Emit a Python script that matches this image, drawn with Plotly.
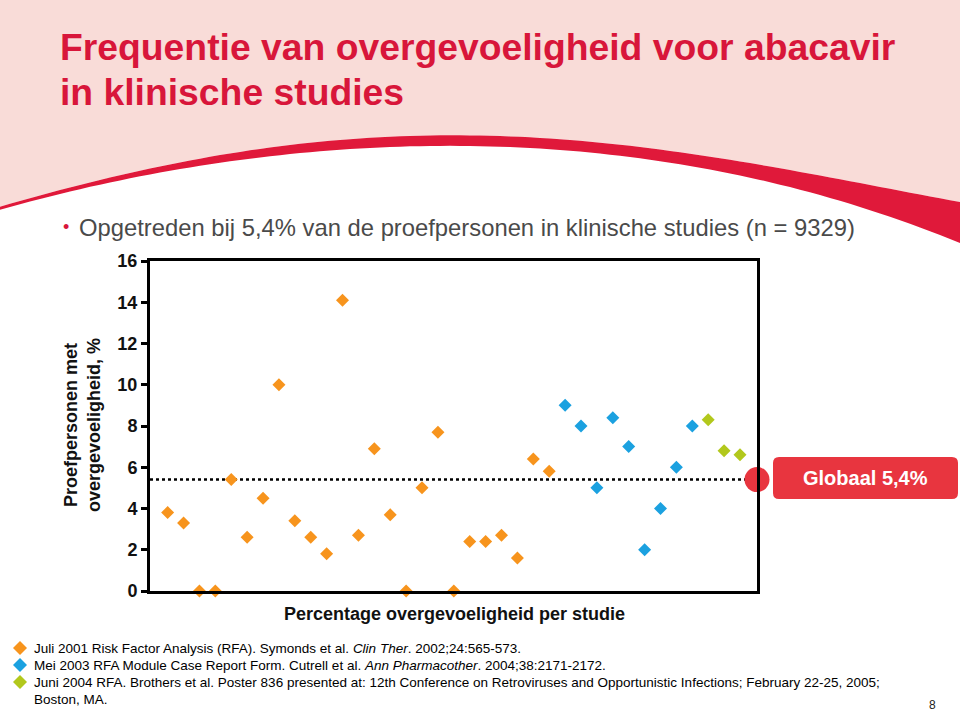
import numpy as np
import plotly.graph_objects as go

# ---------------- data ----------------
series_names = ["Juli 2001", "Mei 2003", "Juni 2004"]
orange_vals = [3.8, 3.3, 0, 0, 5.4, 2.6, 4.5, 10.0, 3.4, 2.6, 1.8, 14.1, 2.7, 6.9,
               3.7, 0, 5.0, 7.7, 0, 2.4, 2.4, 2.7, 1.6, 6.4, 5.8]
blue_vals = [9.0, 8.0, 5.0, 8.4, 7.0, 2.0, 4.0, 6.0, 8.0]
green_vals = [8.3, 6.8, 6.6]
global_pct = 5.4
y_ticks = [0, 2, 4, 6, 8, 10, 12, 14, 16]

legend_texts = [
    "Juli 2001 Risk Factor Analysis (RFA). Symonds et al. <i>Clin Ther</i>. 2002;24:565-573.",
    "Mei 2003 RFA Module Case Report Form. Cutrell et al. <i>Ann Pharmacother</i>. 2004;38:2171-2172.",
    "Juni 2004 RFA. Brothers et al. Poster 836 presented at: 12th Conference on Retroviruses and Opportunistic Infections; February 22-25, 2005;",
    "Boston, MA.",
]

COL_OR = "#f7941d"
COL_BL = "#1ba1e0"
COL_GR = "#b2c81c"
COL_RED = "#e8353f"
COL_TITLE = "#d8163a"
COL_SWOOSH = "#e0193a"
COL_PINK = "#f9dcd8"

W, H = 960, 714


def px(x):
    return x / W


def py(y):
    return 1 - y / H


n_or, n_bl, n_gr = len(orange_vals), len(blue_vals), len(green_vals)
x_or = list(range(1, n_or + 1))
x_bl = list(range(n_or + 1, n_or + n_bl + 1))
x_gr = list(range(n_or + n_bl + 1, n_or + n_bl + n_gr + 1))

XMIN, XMAX = -0.11, 38.07

fig = go.Figure()

fig.add_trace(go.Scatter(x=[XMIN, XMAX], y=[global_pct, global_pct], mode="lines",
                         line=dict(color="black", width=2.5, dash="dot"),
                         hoverinfo="skip", showlegend=False))

for xs_, ys_, c, nm in [(x_or, orange_vals, COL_OR, series_names[0]),
                        (x_bl, blue_vals, COL_BL, series_names[1]),
                        (x_gr, green_vals, COL_GR, series_names[2])]:
    fig.add_trace(go.Scatter(x=xs_, y=ys_, mode="markers", name=nm,
                             marker=dict(symbol="diamond", size=10, color=c),
                             cliponaxis=False, showlegend=False))

fig.add_trace(go.Scatter(x=[XMAX], y=[global_pct], mode="markers",
                         marker=dict(symbol="circle", size=25, color=COL_RED),
                         cliponaxis=False, showlegend=False, hoverinfo="skip"))

# ---------------- background swoosh ----------------
up_x = np.array([0, 107, 213, 320, 640, 800, 960])
up_y = np.array([207, 177, 158, 141, 147, 172, 202])
lo_x = np.array([0, 107, 213, 320, 640, 800, 960])
lo_y = np.array([210, 182, 165, 151, 158, 190, 243])
cu = np.polyfit(up_x, up_y, 4)
cl = np.polyfit(lo_x, lo_y, 4)
xs = np.linspace(0, 960, 97)
uy = np.polyval(cu, xs)
ly = np.polyval(cl, xs)

pink_path = f"M {px(0)},{py(-30)} L {px(960)},{py(-30)} "
for x, y in zip(xs[::-1], uy[::-1]):
    pink_path += f"L {px(x)},{py(y)} "
pink_path += "Z"

band_path = f"M {px(xs[0])},{py(uy[0])} "
for x, y in zip(xs[1:], uy[1:]):
    band_path += f"L {px(x)},{py(y)} "
for x, y in zip(xs[::-1], ly[::-1]):
    band_path += f"L {px(x)},{py(y)} "
band_path += "Z"

shapes = [
    dict(type="path", xref="paper", yref="paper", path=pink_path,
         fillcolor=COL_PINK, line=dict(width=0), layer="below"),
    dict(type="path", xref="paper", yref="paper", path=band_path,
         fillcolor=COL_SWOOSH, line=dict(width=0), layer="below"),
]

bx0, bx1, by0, by1, r = 773, 958, 457, 499, 6
box = (f"M {px(bx0 + r)},{py(by0)} L {px(bx1 - r)},{py(by0)} "
       f"Q {px(bx1)},{py(by0)} {px(bx1)},{py(by0 + r)} L {px(bx1)},{py(by1 - r)} "
       f"Q {px(bx1)},{py(by1)} {px(bx1 - r)},{py(by1)} L {px(bx0 + r)},{py(by1)} "
       f"Q {px(bx0)},{py(by1)} {px(bx0)},{py(by1 - r)} L {px(bx0)},{py(by0 + r)} "
       f"Q {px(bx0)},{py(by0)} {px(bx0 + r)},{py(by0)} Z")
shapes.append(dict(type="path", xref="paper", yref="paper", path=box,
                   fillcolor=COL_RED, line=dict(width=0)))

for (cx, cy), c in zip([(20, 648), (20, 665), (20, 682)], [COL_OR, COL_BL, COL_GR]):
    d = 7
    shapes.append(dict(type="path", xref="paper", yref="paper",
                       path=(f"M {px(cx)},{py(cy - d)} L {px(cx + d)},{py(cy)} "
                             f"L {px(cx)},{py(cy + d)} L {px(cx - d)},{py(cy)} Z"),
                       fillcolor=c, line=dict(width=0)))

# ---------------- annotations ----------------
TITLE_FONT = "Liberation Sans Narrow, Arial Narrow, Liberation Sans, Arial, sans-serif"
SANS = "Liberation Sans, Arial, sans-serif"


def ann(text, x, y, size, color, family=SANS, xanchor="left", angle=0):
    return dict(text=text, x=px(x), y=py(y), xref="paper", yref="paper",
                xanchor=xanchor, yanchor="middle", showarrow=False, textangle=angle,
                font=dict(family=family, size=size, color=color))


annos = [
    ann("<b>Frequentie van overgevoeligheid voor abacavir</b>", 58, 47, 37.3, COL_TITLE, TITLE_FONT),
    ann("<b>in klinische studies</b>", 58, 92, 37.3, COL_TITLE, TITLE_FONT),
    ann("•", 61, 227, 18, COL_TITLE),
    ann("Opgetreden bij 5,4% van de proefpersonen in klinische studies (n = 9329)",
        77, 227, 23.8, "#4a4a4a"),
    ann("<b>Proefpersonen met<br>overgevoeligheid, %</b>", 82, 425, 18, "#111111",
        xanchor="center", angle=-90),
    ann("<b>Percentage overgevoeligheid per studie</b>", 454, 614, 18, "#111111",
        xanchor="center"),
    ann("<b>Globaal 5,4%</b>", 865, 478, 20, "white", xanchor="center"),
    ann("8", 932, 705, 12, "#222222", xanchor="center"),
]
for t, yy in zip(legend_texts, [648, 665, 682, 699]):
    annos.append(ann(t, 32, yy, 13.5, "black"))

fig.update_layout(
    width=W, height=H,
    margin=dict(l=0, r=0, t=0, b=0, pad=0, autoexpand=False),
    paper_bgcolor="white", plot_bgcolor="white",
    showlegend=False,
    shapes=shapes, annotations=annos,
    xaxis=dict(domain=[px(150), px(757)], range=[XMIN, XMAX], showgrid=False, zeroline=False,
               showticklabels=False, ticks="", showline=True, linecolor="black",
               linewidth=3, mirror=True, automargin=False),
    yaxis=dict(domain=[py(591), py(261)], range=[0, 16], tickvals=y_ticks, showgrid=False,
               zeroline=False, ticks="outside", ticklen=6, tickwidth=2.5, tickcolor="black",
               showline=True, linecolor="black", linewidth=3, mirror=True, automargin=False,
               tickfont=dict(family=SANS, size=18, color="#111111", weight="bold")),
)

fig.write_html("out.html", config={"displayModeBar": False},
               post_script="document.body.style.margin='0';document.body.style.overflow='hidden';")
